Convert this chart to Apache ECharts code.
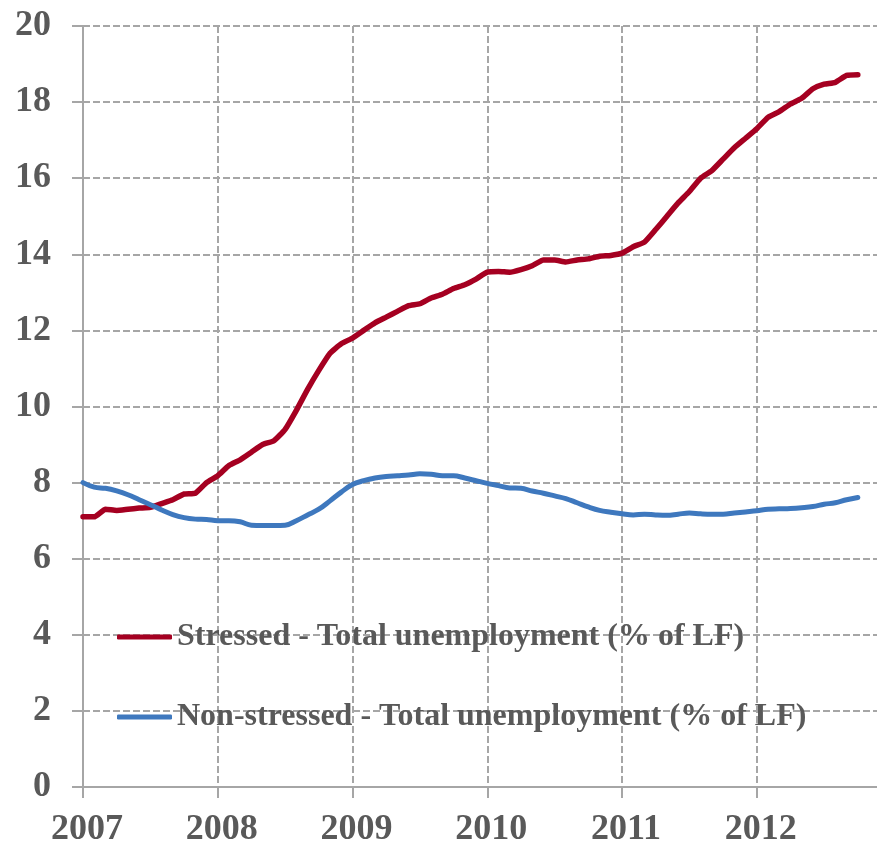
<!DOCTYPE html>
<html>
<head>
<meta charset="utf-8">
<script src="https://cdn.jsdelivr.net/npm/echarts@6/dist/echarts.min.js"></script>
<style>
  html, body { margin: 0; padding: 0; background: #fff; }
  #main { width: 877px; height: 844px; }
</style>
</head>
<body>
<div id="main"></div>
<script>
// monthly series, Jan 2007 onwards
var startYear = 2007;
var yearTicks = [2007, 2008, 2009, 2010, 2011, 2012];

var stressed = [
  7.1, 7.1, 7.3, 7.27, 7.3, 7.33, 7.35, 7.45, 7.55, 7.7, 7.72, 8.0,
  8.18, 8.45, 8.6, 8.8, 9.0, 9.1, 9.4, 9.9, 10.45, 10.95, 11.4, 11.65,
  11.8, 12.0, 12.2, 12.35, 12.5, 12.65, 12.7, 12.85, 12.95, 13.1, 13.2, 13.35,
  13.53, 13.55, 13.53, 13.6, 13.7, 13.85, 13.85, 13.8, 13.85, 13.88, 13.95, 13.97,
  14.03, 14.2, 14.32, 14.65, 15.0, 15.35, 15.65, 16.0, 16.2, 16.5, 16.8, 17.05,
  17.3, 17.6, 17.75, 17.95, 18.1, 18.35, 18.47, 18.52, 18.7, 18.72
];

var nonStressed = [
  8.0, 7.88, 7.85, 7.78, 7.68, 7.55, 7.42, 7.28, 7.16, 7.08, 7.04, 7.03,
  7.0, 7.0, 6.97, 6.88, 6.87, 6.87, 6.88, 7.0, 7.15, 7.3, 7.52, 7.75,
  7.95, 8.05, 8.12, 8.16, 8.18, 8.2, 8.23, 8.22, 8.18, 8.18, 8.12, 8.05,
  7.98, 7.92, 7.86, 7.85, 7.78, 7.72, 7.65, 7.58, 7.47, 7.36, 7.27, 7.22,
  7.18, 7.15, 7.17, 7.15, 7.14, 7.17, 7.2, 7.18, 7.17, 7.17, 7.2, 7.23,
  7.26, 7.3, 7.31, 7.32, 7.34, 7.37, 7.43, 7.47, 7.55, 7.61
];

var seriesNames = [
  'Stressed - Total unemployment (% of LF)',
  'Non-stressed - Total unemployment (% of LF)'
];

function toPoints(arr) {
  return arr.map(function (v, i) { return [startYear + i / 12, v]; });
}

var labelFont = {
  fontFamily: 'Liberation Serif',
  fontWeight: 'bold',
  color: '#595959'
};

var chart = echarts.init(document.getElementById('main'));
chart.setOption({
  backgroundColor: '#fff',
  animation: false,
  grid: {
    left: 83, right: -4, top: 26, bottom: 57,
    containLabel: false,
    outerBoundsMode: 'none'
  },
  legend: {
    orient: 'vertical',
    left: 112,
    top: 616,
    itemWidth: 55,
    itemHeight: 5,
    itemGap: 48,
    icon: 'roundRect',
    data: seriesNames,
    textStyle: Object.assign({ fontSize: 32, padding: [0, 0, 0, 0] }, labelFont)
  },
  xAxis: {
    type: 'value',
    min: yearTicks[0],
    max: 2012.922,
    interval: 1,
    axisLine: { lineStyle: { color: '#a6a6a6', width: 2 } },
    axisTick: { show: true, length: 11, lineStyle: { color: '#a6a6a6', width: 2 } },
    axisLabel: Object.assign({
      fontSize: 36,
      margin: 25,
      padding: [0, 0, 0, 8],
      formatter: function (v) {
        return yearTicks.indexOf(Math.round(v * 1000) / 1000) >= 0 ? String(v) : '';
      }
    }, labelFont),
    splitLine: {
      show: true,
      lineStyle: { color: '#a6a6a6', width: 2, type: [7, 3] }
    }
  },
  yAxis: {
    type: 'value',
    min: 0,
    max: 20,
    interval: 2,
    axisLine: { show: true, lineStyle: { color: '#a6a6a6', width: 2 } },
    axisTick: { show: true, length: 11, lineStyle: { color: '#a6a6a6', width: 2 } },
    axisLabel: Object.assign({ fontSize: 36, margin: 32 }, labelFont),
    splitLine: {
      show: true,
      lineStyle: { color: '#a6a6a6', width: 2, type: [7, 3] }
    }
  },
  series: [
    {
      name: seriesNames[0],
      type: 'line',
      showSymbol: false,
      symbol: 'none',
      smooth: 0.15,
      color: '#A50021',
      lineStyle: { width: 5.5, color: '#A50021', cap: 'round', join: 'round' },
      data: toPoints(stressed)
    },
    {
      name: seriesNames[1],
      type: 'line',
      showSymbol: false,
      symbol: 'none',
      smooth: 0.4,
      color: '#3E78BE',
      lineStyle: { width: 5, color: '#3E78BE', cap: 'round', join: 'round' },
      data: toPoints(nonStressed)
    }
  ]
});
</script>
</body>
</html>
